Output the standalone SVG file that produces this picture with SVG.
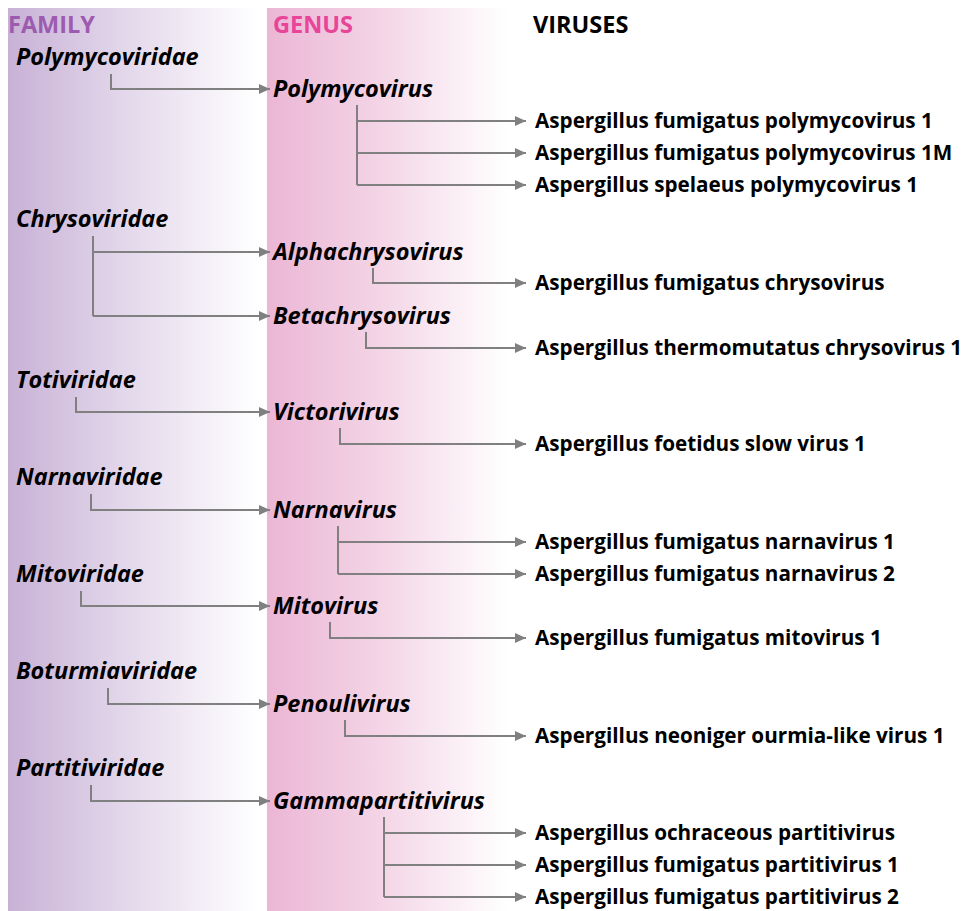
<svg xmlns="http://www.w3.org/2000/svg" width="966" height="911" viewBox="0 0 966 911">
<defs>
<linearGradient id="gFam" x1="0" y1="0" x2="1" y2="0">
<stop offset="0" stop-color="#c8b1d6"/>
<stop offset="0.45" stop-color="#e2d6ea"/>
<stop offset="1" stop-color="#ffffff"/>
</linearGradient>
<linearGradient id="gGen" x1="0" y1="0" x2="1" y2="0">
<stop offset="0" stop-color="#ebb6d5"/>
<stop offset="0.45" stop-color="#f3d3e5"/>
<stop offset="1" stop-color="#ffffff"/>
</linearGradient>
<marker id="arr" markerUnits="userSpaceOnUse" markerWidth="12" markerHeight="10" refX="11" refY="5" orient="auto">
<path d="M0,0 L11,5 L0,10 Z" fill="#808080"/>
</marker>
<style>
text{font-family:"Open Sans","Noto Sans","Liberation Sans",sans-serif;font-weight:bold;fill:#000}
.hdr{font-size:23.5px}
.fam{font-size:23.5px;font-style:italic}
.gen{font-size:23.5px;font-style:italic}
.vir{font-size:20.7px}
.c path{fill:none;stroke:#808080;stroke-width:2}
</style>
</defs>
<rect x="0" y="0" width="966" height="911" fill="#ffffff"/>
<rect x="8" y="8" width="250" height="903" fill="url(#gFam)"/>
<rect x="267" y="8" width="240" height="903" fill="url(#gGen)"/>

<g id="headers">
<text class="hdr" x="8" y="33" style="fill:#9d5bb0">FAMILY</text>
<text class="hdr" x="273" y="33" style="fill:#e8449a">GENUS</text>
<text class="hdr" x="533" y="33">VIRUSES</text>
</g>

<g id="families">
<g id="fam-polymycoviridae"><text class="fam" x="16" y="65">Polymycoviridae</text></g>
<g id="fam-chrysoviridae"><text class="fam" x="16" y="227">Chrysoviridae</text></g>
<g id="fam-totiviridae"><text class="fam" x="16" y="388">Totiviridae</text></g>
<g id="fam-narnaviridae"><text class="fam" x="16" y="485">Narnaviridae</text></g>
<g id="fam-mitoviridae"><text class="fam" x="16" y="582">Mitoviridae</text></g>
<g id="fam-botourmiaviridae"><text class="fam" x="16" y="679">Boturmiaviridae</text></g>
<g id="fam-partitiviridae"><text class="fam" x="16" y="776">Partitiviridae</text></g>
</g>

<g id="genera">
<g id="gen-polymycovirus"><text class="gen" x="273" y="97">Polymycovirus</text></g>
<g id="gen-alphachrysovirus"><text class="gen" x="273" y="260">Alphachrysovirus</text></g>
<g id="gen-betachrysovirus"><text class="gen" x="273" y="324">Betachrysovirus</text></g>
<g id="gen-victorivirus"><text class="gen" x="273" y="420">Victorivirus</text></g>
<g id="gen-narnavirus"><text class="gen" x="273" y="518">Narnavirus</text></g>
<g id="gen-mitovirus"><text class="gen" x="273" y="614">Mitovirus</text></g>
<g id="gen-penoulivirus"><text class="gen" x="273" y="712">Penoulivirus</text></g>
<g id="gen-gammapartitivirus"><text class="gen" x="273" y="809">Gammapartitivirus</text></g>
</g>

<g id="viruses">
<g id="v1"><text class="vir" x="535" y="128">Aspergillus fumigatus polymycovirus 1</text></g>
<g id="v2"><text class="vir" x="535" y="160">Aspergillus fumigatus polymycovirus 1M</text></g>
<g id="v3"><text class="vir" x="535" y="192">Aspergillus spelaeus polymycovirus 1</text></g>
<g id="v4"><text class="vir" x="535" y="290">Aspergillus fumigatus chrysovirus</text></g>
<g id="v5"><text class="vir" x="535" y="355">Aspergillus thermomutatus chrysovirus 1</text></g>
<g id="v6"><text class="vir" x="535" y="451">Aspergillus foetidus slow virus 1</text></g>
<g id="v7"><text class="vir" x="535" y="549">Aspergillus fumigatus narnavirus 1</text></g>
<g id="v8"><text class="vir" x="535" y="581">Aspergillus fumigatus narnavirus 2</text></g>
<g id="v9"><text class="vir" x="535" y="645">Aspergillus fumigatus mitovirus 1</text></g>
<g id="v10"><text class="vir" x="535" y="743">Aspergillus neoniger ourmia-like virus 1</text></g>
<g id="v11"><text class="vir" x="535" y="840">Aspergillus ochraceous partitivirus</text></g>
<g id="v12"><text class="vir" x="535" y="872">Aspergillus fumigatus partitivirus 1</text></g>
<g id="v13"><text class="vir" x="535" y="904">Aspergillus fumigatus partitivirus 2</text></g>
</g>

<g id="connectors" class="c">
<path d="M111,74 V89 H270" marker-end="url(#arr)"/>
<path d="M93,236 V316"/>
<path d="M93,252 H270" marker-end="url(#arr)"/>
<path d="M93,316 H270" marker-end="url(#arr)"/>
<path d="M76,397 V412 H270" marker-end="url(#arr)"/>
<path d="M91,494 V510 H270" marker-end="url(#arr)"/>
<path d="M81,591 V606 H270" marker-end="url(#arr)"/>
<path d="M108,688 V704 H270" marker-end="url(#arr)"/>
<path d="M91,785 V801 H270" marker-end="url(#arr)"/>

<path d="M357,105 V185"/>
<path d="M357,121 H526" marker-end="url(#arr)"/>
<path d="M357,153 H526" marker-end="url(#arr)"/>
<path d="M357,185 H526" marker-end="url(#arr)"/>
<path d="M373,268 V283 H526" marker-end="url(#arr)"/>
<path d="M366,332 V348 H526" marker-end="url(#arr)"/>
<path d="M340,428 V444 H526" marker-end="url(#arr)"/>
<path d="M338,526 V574"/>
<path d="M338,542 H526" marker-end="url(#arr)"/>
<path d="M338,574 H526" marker-end="url(#arr)"/>
<path d="M330,622 V638 H526" marker-end="url(#arr)"/>
<path d="M345,720 V736 H526" marker-end="url(#arr)"/>
<path d="M384,817 V897"/>
<path d="M384,833 H526" marker-end="url(#arr)"/>
<path d="M384,865 H526" marker-end="url(#arr)"/>
<path d="M384,897 H526" marker-end="url(#arr)"/>
</g>
</svg>
